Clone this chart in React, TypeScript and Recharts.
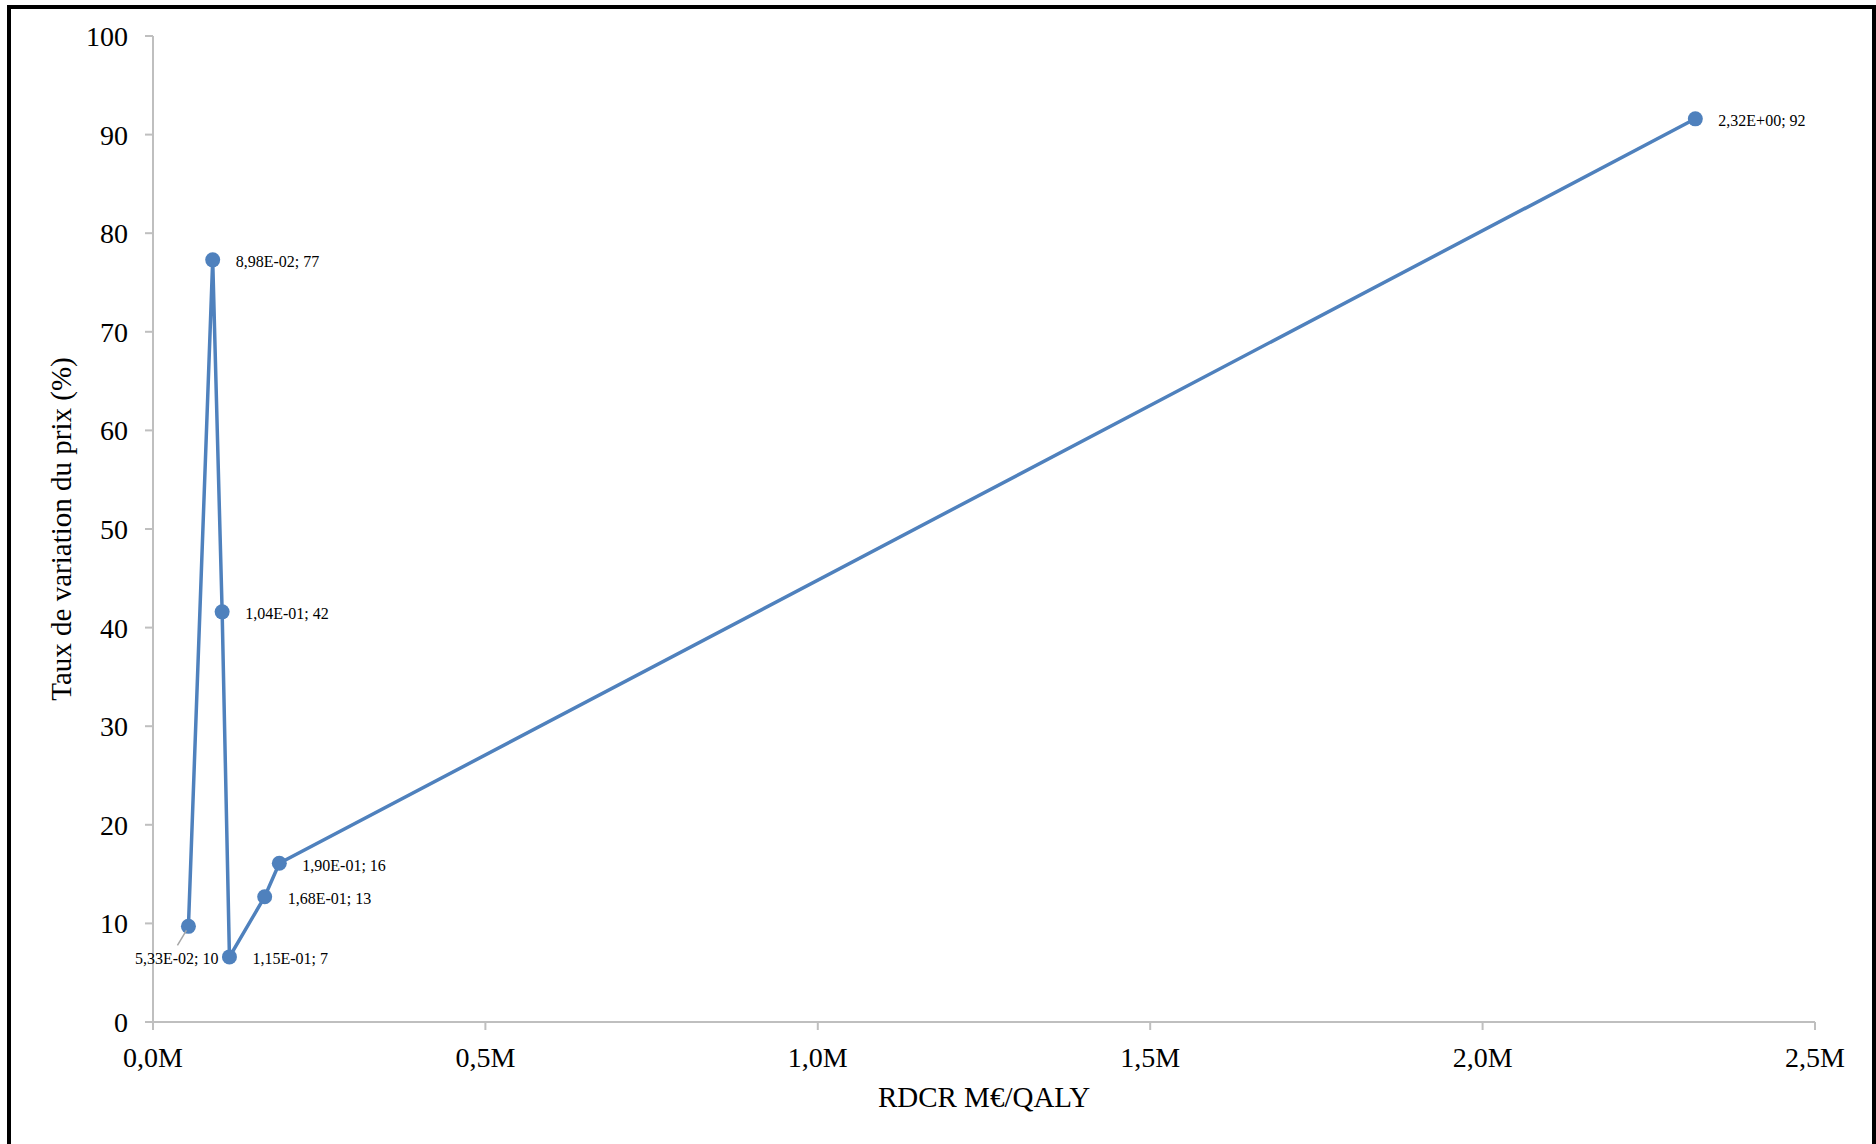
import React from "react";
import { LineChart, Line, XAxis, YAxis, LabelList, Label } from "recharts";

// RDCR (M€/QALY) and price variation (%)
const rdcrValues = [0.0533, 0.0898, 0.104, 0.115, 0.168, 0.19, 2.32];
const priceVariation = [9.7, 77.3, 41.6, 6.6, 12.7, 16.1, 91.6];
const xTicks = [0, 0.5, 1, 1.5, 2, 2.5];
const yTicks = [0, 10, 20, 30, 40, 50, 60, 70, 80, 90, 100];
const xTitle = "RDCR M€/QALY";
const yTitle = "Taux de variation du prix (%)";

const data = rdcrValues.map((x, i) => ({ x, y: priceVariation[i] }));

const FONT = '"Liberation Serif", "Times New Roman", serif';
const BLUE = "#4f81bd";
const AXIS = "#bfbfbf";

const W = 1876;
const H = 1144;

function fmtExp(v: number): string {
  const [m, e] = v.toExponential(2).split("e");
  const n = parseInt(e, 10);
  const sign = n < 0 ? "-" : "+";
  const d = String(Math.abs(n)).padStart(2, "0");
  return `${m.replace(".", ",")}E${sign}${d}`;
}

function fmtTick(v: number): string {
  return v.toFixed(1).replace(".", ",") + "M";
}

const PointLabel = (props: any) => {
  const { x, y, index } = props;
  if (x == null || y == null) return null;
  const d = data[index];
  const text = `${fmtExp(d.x)}; ${Math.round(d.y)}`;
  if (index === 0) {
    return (
      <g>
        <line x1={x - 2} y1={y + 4} x2={x - 11} y2={y + 19} stroke="#a6a6a6" strokeWidth={1.5} />
        <text x={x + 30} y={y + 32} textAnchor="end" dominantBaseline="central" fontFamily={FONT} fontSize={16} fill="#000">
          {text}
        </text>
      </g>
    );
  }
  return (
    <text x={x + 23} y={y + 2} textAnchor="start" dominantBaseline="central" fontFamily={FONT} fontSize={16} fill="#000">
      {text}
    </text>
  );
};

const YTitle = () => (
  <text transform="translate(71,529) rotate(-90)" textAnchor="middle" fontFamily={FONT} fontSize={29} fill="#000">
    {yTitle}
  </text>
);

export default function App() {
  return (
    <div style={{ position: "absolute", left: 0, top: 0, width: W, height: H, overflow: "hidden", background: "#fff" }}>
      <div
        style={{
          position: "absolute",
          left: 7,
          top: 5,
          width: W - 7,
          height: 1200,
          border: "4px solid #000",
          boxSizing: "border-box",
        }}
      />
      <div style={{ position: "absolute", left: 0, top: 0 }}>
        <LineChart
          width={W}
          height={H}
          data={data}
          margin={{ top: 36, right: 61, left: 152, bottom: 121 }}
        >
          <XAxis
            dataKey="x"
            type="number"
            domain={[0, 2.5]}
            ticks={xTicks}
            tickFormatter={fmtTick}
            height={1}
            stroke={AXIS}
            strokeWidth={2}
            tickSize={8}
            tickMargin={17}
            tick={{ fill: "#000", fontSize: 28, fontFamily: FONT }}
            tickLine={{ stroke: AXIS, strokeWidth: 2 }}
            interval={0}
          >
            <Label
              value={xTitle}
              position="bottom"
              offset={63}
              style={{ fill: "#000", fontSize: 29, fontFamily: FONT }}
            />
          </XAxis>
          <YAxis
            type="number"
            domain={[0, 100]}
            ticks={yTicks}
            width={1}
            stroke={AXIS}
            strokeWidth={2}
            tickSize={8}
            tickMargin={17}
            tick={{ fill: "#000", fontSize: 28, fontFamily: FONT }}
            tickLine={{ stroke: AXIS, strokeWidth: 2 }}
            interval={0}
          >
            <Label content={YTitle} />
          </YAxis>
          <Line
            type="linear"
            dataKey="y"
            stroke={BLUE}
            strokeWidth={3.5}
            dot={{ r: 7.5, fill: BLUE, stroke: BLUE, strokeWidth: 0 }}
            activeDot={false}
            isAnimationActive={false}
          >
            <LabelList dataKey="y" content={PointLabel} />
          </Line>
        </LineChart>
      </div>
    </div>
  );
}
